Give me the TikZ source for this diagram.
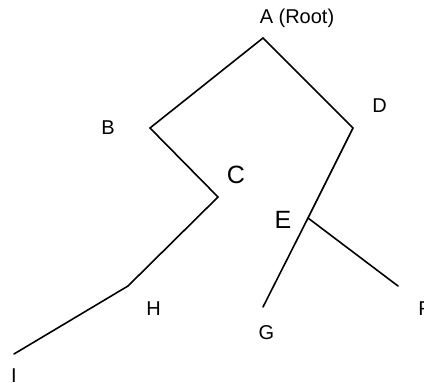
\documentclass[tikz,border=0pt]{standalone}
\usepackage{fontspec}
\setmainfont{Liberation Sans}
\begin{document}
\begin{tikzpicture}[x=1pt,y=-1pt,
  edge/.style={line width=1.6pt,line cap=round,line join=miter},
  lbl/.style={anchor=base,inner sep=0pt,font=\fontsize{20}{24}\selectfont},
  biglbl/.style={anchor=base,inner sep=0pt,font=\fontsize{25}{30}\selectfont}]
\useasboundingbox (0,0) rectangle (424,383);
% tree vertices
\coordinate (A) at (263,38);
\coordinate (B) at (150,128);
\coordinate (C) at (218,197);
\coordinate (H) at (128,286);
\coordinate (I) at (14,354);
\coordinate (D) at (353,128);
\coordinate (E) at (308,218);
\coordinate (G) at (263,307);
\coordinate (F) at (398,286);
% branches
\draw[edge] (A) -- (B);
\draw[edge] (B) -- (C);
\draw[edge] (C) -- (H);
\draw[edge] (H) -- (I);
\draw[edge] (A) -- (D);
\draw[edge] (D) -- (E);
\draw[edge] (E) -- (G);
\draw[edge] (E) -- (F);
% labels
\node[lbl] (lA) at (297,23) {A (Root)};
\node[lbl] (lB) at (108,134) {B};
\node[biglbl] (lC) at (236,183) {C};
\node[lbl] (lD) at (379.5,112) {D};
\node[biglbl] (lE) at (283,228) {E};
\node[lbl] (lH) at (153.5,315) {H};
\node[lbl] (lG) at (266.5,339) {G};
\node[lbl] (lF) at (424.5,315) {F};
\node[lbl] (lI) at (14,382.5) {I};
\end{tikzpicture}
\end{document}
